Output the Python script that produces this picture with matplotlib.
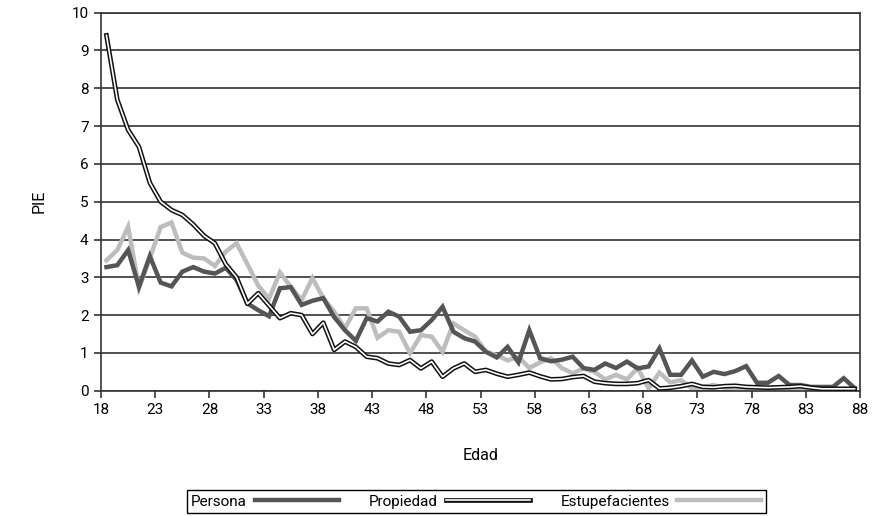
import numpy as np
import matplotlib
matplotlib.use("Agg")
import matplotlib.pyplot as plt
from matplotlib.lines import Line2D
from matplotlib.legend_handler import HandlerTuple

plt.rcParams['font.family'] = ['Roboto', 'DejaVu Sans']

# ages 18..87 (one value per year of age)
edad = list(range(18, 88))

persona = [3.27, 3.32, 3.72, 2.75, 3.56, 2.86, 2.76, 3.15, 3.27, 3.15,
           3.10, 3.25, 2.93, 2.31, 2.13, 1.97, 2.71, 2.74, 2.27, 2.38,
           2.45, 1.95, 1.60, 1.32, 1.92, 1.83, 2.09, 1.96, 1.56, 1.60,
           1.87, 2.22, 1.56, 1.39, 1.30, 1.03, 0.88, 1.16, 0.75, 1.60,
           0.86, 0.78, 0.82, 0.90, 0.60, 0.55, 0.72, 0.60, 0.77, 0.59,
           0.64, 1.12, 0.42, 0.42, 0.80, 0.37, 0.50, 0.44, 0.52, 0.65,
           0.21, 0.21, 0.39, 0.15, 0.15, 0.10, 0.10, 0.10, 0.33, 0.07]

propiedad = [9.40, 7.70, 6.90, 6.45, 5.50, 5.00, 4.78, 4.65, 4.40, 4.10,
             3.90, 3.35, 3.00, 2.30, 2.58, 2.25, 1.92, 2.05, 2.00, 1.50,
             1.80, 1.08, 1.30, 1.16, 0.90, 0.86, 0.72, 0.68, 0.81, 0.59,
             0.77, 0.37, 0.59, 0.72, 0.50, 0.55, 0.45, 0.37, 0.42, 0.48,
             0.38, 0.30, 0.31, 0.36, 0.39, 0.24, 0.20, 0.18, 0.18, 0.20,
             0.28, 0.06, 0.08, 0.12, 0.18, 0.10, 0.09, 0.12, 0.13, 0.10,
             0.09, 0.08, 0.09, 0.10, 0.12, 0.08, 0.05, 0.05, 0.05, 0.05]

estupefacientes = [3.45, 3.72, 4.34, 2.72, 3.50, 4.33, 4.45, 3.65, 3.52, 3.50,
                   3.30, 3.68, 3.90, 3.35, 2.78, 2.44, 3.13, 2.75, 2.40, 2.98,
                   2.45, 2.09, 1.65, 2.18, 2.18, 1.40, 1.60, 1.56, 0.99, 1.47,
                   1.43, 1.03, 1.78, 1.60, 1.43, 1.03, 0.94, 0.80, 0.90, 0.60,
                   0.75, 0.86, 0.60, 0.46, 0.59, 0.50, 0.30, 0.42, 0.30, 0.60,
                   0.06, 0.48, 0.22, 0.28, 0.06, 0.10, 0.15, 0.08, 0.05, 0.04,
                   0.03, 0.03, 0.03, 0.03, 0.03, 0.03, 0.03, 0.03, 0.03, 0.03]

tick_labels = list(range(18, 89, 5))

x = np.array(edad) + 0.5  # points sit in the middle of each year slot

fig = plt.figure(figsize=(8.77, 5.16), dpi=100)
ax = fig.add_axes([0.1152, 0.2428, 0.8654, 0.7326])

for y in range(0, 11):
    ax.axhline(y, color='#333333', lw=1.2, zorder=1)

ax.plot(x, estupefacientes, color='#bdbdbd', lw=3.2, zorder=2, solid_joinstyle='miter')
ax.plot(x, persona, color='#555555', lw=3.2, zorder=3, solid_joinstyle='miter')
ax.plot(x, propiedad, color='#111111', lw=3.4, zorder=4)
ax.plot(x, propiedad, color='white', lw=1.2, zorder=5)

ax.set_xlim(18, 88)
ax.set_ylim(0, 10)
ax.set_xticks(tick_labels)
ax.set_xticklabels([str(t) for t in tick_labels])
ax.set_yticks(range(0, 11))
ax.tick_params(axis='both', direction='out', length=5, width=1.2, color='#333333',
               labelsize=11, pad=4)
for s in ax.spines.values():
    s.set_color('#333333')
    s.set_linewidth(1.2)

ax.set_xlabel('Edad', fontsize=11.5, labelpad=22)
ax.set_ylabel('PIE', fontsize=11.5, labelpad=18)

h_per = Line2D([], [], color='#555555', lw=3.2)
h_pro = (Line2D([], [], color='#111111', lw=3.4), Line2D([], [], color='white', lw=1.2))
h_est = Line2D([], [], color='#bdbdbd', lw=3.2)
leg = fig.legend([h_per, h_pro, h_est], ['Persona', 'Propiedad', 'Estupefacientes'],
                 handler_map={tuple: HandlerTuple(ndivide=1, pad=0)},
                 loc='center', bbox_to_anchor=(0.543, 0.028), ncol=3,
                 markerfirst=False, handlelength=5.5, columnspacing=2.0,
                 handletextpad=0.5, fontsize=11, fancybox=False, framealpha=1,
                 edgecolor='black', borderpad=0.3)
leg.get_frame().set_linewidth(1.0)

fig.savefig('out.png', dpi=100)
